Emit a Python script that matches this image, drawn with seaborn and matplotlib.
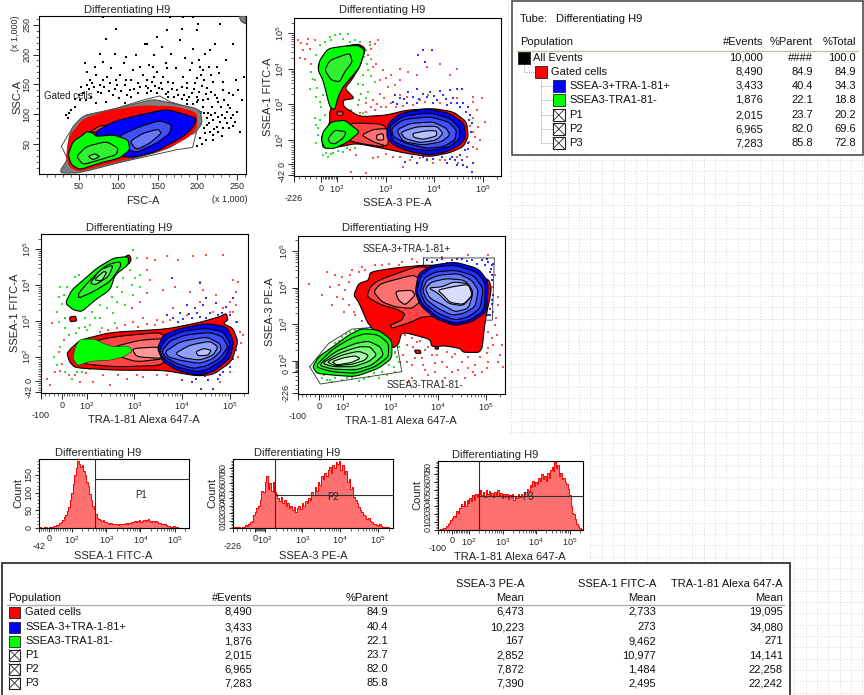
#!/usr/bin/env python3
# flow cytometry worksheet: four contour plots, three histograms, two stat tables
import numpy as np
import seaborn as sns
import matplotlib.pyplot as plt
from matplotlib.patches import Rectangle

sns.set_style('white')
plt.rcParams['font.family'] = ['Liberation Sans', 'DejaVu Sans']
plt.rcParams['mathtext.default'] = 'regular'
plt.rcParams['font.size'] = 8

#%% data: plots use display channels (x right, y down)
TITLE = 'Differentiating H9'
RED, BLUE, GREEN = '#ff0000', '#0000ff', '#00ff00'
REDS = ['#ff0000', '#ff4545', '#ff7070', '#ff9898']
BLUES = ['#0000ff', '#2030ff', '#4050ff', '#6878ff', '#90a0ff', '#b8c0ff', '#d8dcff']
GREENS = ['#00ff00', '#30f030', '#55ff55', '#80ff80', '#a8ffa8', '#d4ffd4']

# plot 1, FSC / SSC
p1_gate = [(185,440),(205,405),(235,365),(260,345),(350,325),(430,300),(480,288),(510,305),(605,335),(578,443),(530,450),(240,515),(205,480)]
p1_gray = [(183,510),(203,480),(205,430),(215,385),(250,348),(300,338),(400,313),(460,298),(510,308),(600,328),(607,370),(585,400),(570,405),(500,450),(240,520),(185,520)]
p1_gray_corner = [(718,47),(738,47),(738,72),(722,62)]
p1_red = [(200,470),(210,410),(250,358),(320,335),(420,318),(520,320),(590,338),(590,385),(560,415),(490,450),(350,485),(235,515),(210,500)]
p1_red2 = [(268,398),(300,378),(322,376),(300,395)]
p1_blue = [(280,400),(340,365),(420,345),(500,328),(550,342),(590,355),(580,382),(550,410),(470,455),(390,475),(340,460)]
p1_blue2 = [(355,410),(420,380),(480,362),(515,375),(510,400),(470,430),(410,458),(385,450)]
p1_blue3 = [(390,425),(430,400),(475,388),(485,400),(450,430),(410,450)]
p1_green = [(205,465),(220,425),(250,405),(260,395),(280,400),(290,410),(340,405),(385,420),(390,450),(360,475),(300,490),(240,510),(215,495)]
p1_green2 = [(230,470),(260,440),(320,425),(355,445),(350,465),(300,480),(250,495)]
p1_green3 = [(265,470),(285,462),(300,470),(280,480)]
p1_dots = [(255,190),(262,215),(270,240),(285,200),(290,225),(300,255),(310,185),(322,230),(335,205),(345,160),(350,85),(352,255),(360,225),(372,190),(380,240),(392,270),(400,210),(410,165),(415,250),(428,225),
    (435,130),(440,280),(448,195),(455,245),(462,165),(470,215),(478,265),(485,140),(490,232),(498,190),(505,275),(512,160),(520,250),(528,205),(535,285),(540,120),(548,230),(555,175),(562,265),(570,210),
    (578,145),(585,250),(590,290),(595,70),(597,180),(602,225),(610,300),(615,160),(622,265),(628,200),(635,320),(640,245),(645,130),(652,295),(658,220),(665,345),(670,270),(678,180),(685,315),(692,355),
    (700,285),(708,240),(712,335),(720,395),(726,300),(732,230),(650,380),(665,410),(640,360),(625,340),(612,385),(618,420),(590,440),(600,415),(640,420),(680,370),(215,330),(205,355),(225,320),(240,300),
    (250,280),(260,300),(275,290),(290,310),(305,280),(320,305),(340,285),(358,295),(375,310),(395,290),(415,280),(445,265),(470,280),(505,290),(530,270),(560,300),(575,280),(595,300),(610,320),(560,250),
    (300,160),(320,115),(440,130),(470,110),(500,90),(545,85),(590,90),(660,70),(510,50),(550,50),(580,50),(310,50),(630,150),(700,130),(500,205),(420,200),(380,170),(460,200),(650,200),(600,200),
    (268,268),(282,262),(296,275),(312,262),(328,272),(345,268),(365,272),(382,285),(402,268),(422,262),(438,258),(452,272),(465,258),(485,268),(498,282),(515,268),(522,292),(545,262),(552,285),(568,290),
    (582,268),(598,275),(605,258),(618,282),(625,298),(632,275),(645,285),(655,305),(662,320),(672,300),(680,335),(690,325),(698,345),(705,365),(675,355),(655,350),(645,338),(632,345),(620,355),(612,340),
    (628,370),(642,388),(655,395),(670,385),(688,385),(700,378),(660,365),(615,400),(605,432),(630,395),(640,405),(620,375),(590,305),(578,312),(560,312),(545,298),(505,245),(482,248),(462,232),(442,240),
    (395,240),(375,255),(348,240),(330,250),(310,240),(278,250),(262,255),(245,262),(238,285),(225,298),(208,340),(198,345),(592,235),(612,240),(632,225),(668,245),(688,280),(715,270),(610,210),(575,188)]

# plot 2, SSEA-3 / SSEA-1
p2_red = [(295,130),(318,145),(300,200),(275,240),(255,265),(285,295),(250,300),(252,320),(300,350),(380,345),(440,330),(520,325),(580,335),(620,365),(625,410),(610,440),(570,458),(510,470),(440,460),(370,445),(290,430),(240,440),(190,445),(185,410),(210,370),(210,330),(240,290),(170,205),(200,150)]
p2_red2 = [(265,368),(380,372),(380,442),(300,430),(262,420)]
p2_red3 = [(305,405),(340,388),(385,385),(385,440),(340,425)]
p2_red4 = [(350,405),(370,400),(372,420),(352,420)]
p2_red5 = [(230,335),(250,335),(250,345),(235,347)]
p2_blue = [[(385,370),(420,340),(500,325),(570,340),(612,370),(618,410),(600,435),(560,455),(510,465),(450,455),(400,435),(380,410)],
    [(388,380),(430,348),(510,338),(570,355),(600,385),(600,415),(570,440),(510,452),(450,445),(400,425)],
    [(395,385),(430,358),(510,350),(565,365),(590,390),(585,420),(550,440),(500,445),(440,430),(400,410)],
    [(410,390),(450,370),(520,365),(560,385),(570,405),(545,425),(490,435),(430,425)],
    [(422,397),(470,380),(530,378),(550,400),(530,420),(480,428),(435,415)],
    [(458,400),(500,392),(530,392),(530,408),(490,418),(462,412)]]
p2_green_top = [(175,210),(180,180),(205,145),(250,138),(295,135),(315,150),(300,200),(280,225),(250,260),(235,290),(225,330),(210,320),(190,240)]
p2_green_top2 = [(195,210),(210,180),(270,158),(278,185),(255,215),(240,245),(215,240)]
p2_green_low = [(185,420),(190,395),(215,365),(255,360),(280,380),(300,395),(265,425),(225,445),(195,445)]
p2_green_low2 = [(205,415),(225,390),(260,395),(250,415),(225,432),(210,428)]
p2_red_dots = [(115,120),(125,128),(145,115),(165,118),(150,145),(135,175),(155,190),(120,172),(330,125),(345,130),(355,120),(325,165),(350,190),(370,210),(395,225),(420,205),(445,215),(470,225),(500,200),(540,190),
    (590,205),(570,225),(420,240),(385,260),(360,280),(340,300),(320,310),(395,310),(365,320),(640,290),(665,295),(650,330),(640,355),(655,380),(675,365),(645,410),(660,420),(640,440),(620,470),(595,490),
    (540,480),(520,490),(480,475),(450,480),(430,500),(400,470),(320,520),(340,475),(290,465),(270,450),(640,305),(440,290),(505,285),(480,300),(420,285),(590,295),(275,515),(380,320),(300,340),
    (130,150),(142,132),(335,145),(340,200),(362,240),(378,232),(405,255),(372,295),(352,312),(335,322),(318,335),(345,330),(410,320),(430,318),(460,315),(495,305),(540,310),(630,378),(640,395),(628,425),(650,448),(590,470),(555,480),(500,478),(420,470),(380,462),(355,470)]
p2_green_dots = [(225,105),(240,100),(265,100),(215,120),(195,125),(180,135),(170,165),(155,215),(150,265),(165,240),(170,290),(185,320),(190,285),(300,125),(320,150),(335,175),(310,225),(295,250),(305,280),(325,210),
    (345,245),(290,205),(165,355),(175,385),(190,465),(205,470),(220,460),(250,455),(170,430),(175,405),(285,445),(310,340),(275,330),(295,315),(325,275),(270,125),(200,460),
    (210,110),(250,115),(285,118),(330,135),(312,170),(322,190),(335,228),(310,255),(320,295),(298,300),(160,235),(172,262),(180,305),(195,345),(180,360),(168,375),(215,462),(235,452),(262,445)]
p2_blue_dots = [(475,165),(490,150),(495,185),(515,150),(405,285),(420,295),(445,275),(470,265),(490,280),(510,275),(530,300),(550,285),(570,270),(590,265),(605,265),(580,295),(610,310),(560,315),(520,310),(470,310),
    (400,305),(440,310),(630,345),(635,370),(625,430),(615,450),(600,465),(585,480),(560,490),(620,500),(635,515),(610,495),(640,490),(500,480),(470,490),(435,485),(455,470),(575,470),(600,320),(625,320),
    (412,312),(432,298),(458,292),(478,298),(500,292),(522,288),(540,272),(558,298),(572,308),(592,308),(618,335),(628,360),(632,395),(625,448),(606,480),(590,495),(570,478),(545,472),(520,476),(490,470)]

# plot 3, TRA-1-81 / SSEA-1
p3_red = [(200,415),(212,400),(240,375),(330,352),(500,342),(600,322),(660,305),(680,295),(685,315),(670,325),(700,340),(715,380),(695,440),(640,478),(590,482),(490,465),(350,465),(225,458),(208,440)]
p3_red_dot = [(208,306),(226,303),(230,318),(210,320)]
p3_red_tip = [(375,125),(388,120),(394,135),(385,150)]
p3_reds = [[(230,390),(340,365),(500,350),(500,450),(350,455),(240,445)],
    [(340,395),(420,375),(500,370),(500,430),(410,440),(360,425)],
    [(395,400),(480,395),(490,430),(410,425)]]
p3_blue = [[(472,400),(490,360),(540,340),(620,325),(680,335),(703,380),(690,430),(640,470),(590,480),(530,465),(490,440)],
    [(478,405),(500,370),(550,348),(620,340),(670,350),(692,385),(675,430),(625,462),(590,470),(530,455),(490,430)],
    [(485,408),(510,378),(555,360),(630,352),(668,365),(685,395),(660,430),(620,452),(580,460),(530,445),(495,425)],
    [(495,410),(540,380),(620,365),(660,385),(665,405),(640,430),(600,445),(540,435),(505,425)],
    [(525,415),(570,390),(630,378),(655,395),(640,420),(600,435),(550,428)],
    [(588,410),(610,400),(635,405),(625,420),(595,422)]]
p3_green_top = [[(195,265),(215,225),(250,195),(290,160),(340,130),(385,125),(385,150),(345,180),(330,225),(285,255),(245,290),(220,285)],
    [(235,235),(270,195),(320,150),(360,140),(362,155),(330,200),(280,230),(235,250)],
    [(270,205),(300,165),(340,150),(325,185),(285,210)],
    [(282,195),(310,170),(320,172),(305,198)]]
p3_green_low = [(218,430),(225,395),(240,372),(285,372),(310,385),(340,395),(385,392),(398,408),(370,425),(330,435),(270,438),(232,452)]
p3_red_dots = [(440,130),(465,135),(500,125),(535,135),(580,125),(620,120),(670,120),(700,195),(715,200),(710,230),(690,260),(650,240),(610,225),(570,230),(525,215),(490,225),(450,195),(440,235),(420,260),(395,280),
    (430,310),(470,315),(520,280),(560,300),(700,290),(720,350),(730,360),(715,425),(690,470),(660,500),(500,480),(430,485),(380,490),(330,510),(280,500),(240,500),(205,480),(150,510),(165,470),(140,490),
    (155,325),(190,375),(175,410),(440,165),(375,330),(400,320),(600,200),(670,280),(640,290),(710,270),
    (415,335),(440,328),(465,330),(490,322),(510,315),(350,340),(325,345),(300,352),(470,480),(410,478),(355,478),(310,480),(258,472),(225,478),(185,445),(178,468),(725,385),(708,320),(690,290),(600,262)]
p3_green_dots = [(400,105),(410,130),(420,180),(395,210),(370,190),(350,215),(335,245),(300,270),(275,290),(255,310),(235,340),(195,340),(175,320),(170,290),(180,215),(225,185),(175,245),(190,240),(270,330),(300,310),
    (340,295),(375,270),(400,240),(420,215),(230,470),(195,470),(215,490),(170,450),(180,395),(205,360),(260,345),(305,340),(345,325),(160,425),
    (350,260),(320,278),(285,310),(255,335),(228,355),(195,310),(185,268),(200,215),(235,180),(365,230),(390,165),(405,190),(245,470),(270,462)]
p3_blue_dots = [(515,190),(600,205),(540,295),(560,270),(585,280),(610,270),(630,295),(655,300),(680,275),(700,250),(520,310),(500,300),(535,320),(575,310),(600,305),(650,265),(620,250),(590,490),(605,520),(640,520),
    (655,490),(670,470),(700,430),(690,455),(575,500),(545,495),(625,495),(550,312),(568,298),(592,295),(618,308),(640,312),(668,295),(692,300),(712,320),(708,405),(660,478),(615,482)]

# plot 4, TRA-1-81 / SSEA-3
p4_gate_blue = [(505,128),(718,128),(712,315),(505,315)]
p4_gate_green = [(163,455),(220,385),(290,342),(370,335),(425,385),(440,470),(195,507)]
p4_red = [(295,240),(310,205),(340,195),(345,170),(420,158),(500,150),(560,150),(700,190),(710,220),(690,320),(680,412),(625,412),(615,400),(570,392),(530,395),(525,372),(440,350),(430,388),(412,400),(340,330),(310,260)]
p4_red_bit1 = [(478,405),(495,405),(498,415),(482,415)]
p4_red_bit2 = [(540,395),(550,395),(550,402),(540,402)]
p4_reds = [[(335,245),(345,215),(370,195),(480,155),(520,155),(600,300),(500,305),(470,320),(410,340),(405,330),(440,315),(450,295),(420,280),(380,270)],
    [(355,230),(375,205),(490,175),(495,260),(470,280),(420,275),(380,260)],
    [(420,228),(470,225),(480,240),(450,270),(430,255)]]
p4_blue = [[(480,230),(490,175),(530,150),(600,140),(670,160),(700,200),(695,290),(650,320),(600,332),(540,310),(495,270)],
    [(485,230),(497,180),(535,155),(600,150),(665,170),(692,205),(688,285),(645,315),(600,325),(545,305),(500,265)],
    [(495,230),(505,190),(540,170),(600,165),(655,180),(685,220),(675,280),(640,305),(600,315),(550,295),(510,265)],
    [(502,225),(515,195),(550,180),(610,175),(650,195),(670,225),(660,275),(625,295),(590,300),(550,280),(515,255)],
    [(510,220),(530,200),(575,190),(630,195),(655,230),(640,280),(600,290),(565,270),(525,250)],
    [(520,218),(560,215),(595,200),(640,205),(655,235),(625,272),(580,265),(550,235)],
    [(548,225),(590,215),(640,207),(652,240),(625,268),(585,262),(565,240)]]
p4_green = [[(172,455),(190,425),(240,390),(280,360),(320,340),(370,345),(410,375),(410,430),(370,460),(300,485),(230,480),(185,475)],
    [(178,455),(235,400),(290,368),(330,355),(370,360),(400,385),(400,425),(360,455),(300,475),(230,470)],
    [(190,450),(240,410),(300,385),(340,378),(375,395),(385,420),(350,450),(300,465),(230,462)],
    [(200,445),(250,415),(310,395),(345,395),(365,420),(340,440),(295,455),(235,455)],
    [(215,440),(260,420),(310,408),(340,420),(330,435),(290,448),(240,452)],
    [(230,440),(265,428),(300,422),(315,430),(290,442),(245,450)]]
p4_red_dots = [(160,205),(215,170),(240,180),(260,185),(225,215),(200,240),(245,245),(270,225),(285,180),(230,270),(265,290),(295,290),(320,155),(400,145),(440,140),(470,130),(560,125),(640,120),(700,120),(720,180),
    (730,245),(715,290),(720,330),(700,350),(715,390),(735,420),(745,455),(700,440),(660,450),(620,440),(590,425),(560,440),(530,420),(500,430),(470,450),(445,420),(455,390),(485,380),(510,405),(590,470),
    (630,490),(660,480),(470,490),(510,465),(540,470),(570,490),(455,500),(680,470),(725,360),(740,390),(500,365),(470,370),(420,415),(435,440),
    (280,200),(290,165),(310,170),(330,165),(250,210),(262,250),(282,270),(300,300),(320,318),(338,322),(360,148),(380,150),(430,148),(485,140),(450,360),(475,395),(495,378),(520,395),(545,420),(575,412),
    (600,418),(640,425),(675,425),(695,415),(710,370),(722,310),(728,270),(715,215),(455,440),(480,430),(505,450),(540,445),(575,455),(610,465),(640,460),(700,400),(695,460),(730,440),(655,470),(520,480)]
p4_green_dots = [(200,490),(215,495),(240,490),(260,495),(290,490),(310,497),(340,485),(370,490),(395,480),(420,470),(430,440),(420,410),(430,395),(240,385),(260,365),(285,350),(195,470),(225,495),(355,475),(400,450),
    (205,480),(230,500),(275,488),(325,492),(380,470),(415,455),(425,425),(415,395),(250,378),(272,358),(300,345)]
p4_blue_dots = [(515,135),(530,140),(560,132),(590,135),(620,132),(650,135),(680,135),(700,140),(712,150),(705,170),(710,195),(715,240),(705,280),(700,300),(710,265),(690,150),(665,145),(705,215),
    (545,135),(575,142),(605,132),(635,138),(695,132),(708,160),(712,180),(705,232),(712,255),(706,300),(715,145)]

# histograms: counts per display bin
h1_counts = [0,2,1,0,3,2,1,3,4,4,6,5,8,9,14,17,22,30,38,48,60,78,98,125,150,170,190,182,172,178,160,150,130,118,95,80,62,55,
    40,28,26,24,20,22,18,17,14,12,14,11,12,10,12,9,11,10,12,11,13,12,15,14,18,16,19,17,20,22,18,21,24,19,22,25,20,18,21,17,19,16,14,
    15,12,10,11,8,7,6,4,3,5,1,2,0,1,0,0,0,0,0,0]
h2_counts = [0,1,2,1,2,0,1,2,4,3,6,8,10,18,22,27,30,38,50,48,62,70,52,60,50,62,48,46,40,36,42,34,38,30,34,27,30,24,28,22,27,
    30,26,33,30,36,34,40,38,48,44,55,50,62,58,70,66,74,70,78,82,74,84,80,88,86,90,78,84,72,76,62,66,52,55,42,38,34,28,24,22,
    18,16,12,14,9,8,6,5,4,3,5,3,2,2,1,1,0,0,0]
h3_counts = [0,0,1,1,2,3,5,7,9,12,15,18,17,24,22,28,33,30,36,30,38,34,40,36,44,38,46,42,46,50,44,48,42,51,45,49,43,47,41,48,44,50,43,47,40,46,42,45,39,44,41,46,38,43,40,45,
    41,46,43,48,45,52,49,57,54,62,56,60,58,66,62,70,64,68,62,72,66,76,80,74,86,78,82,68,72,64,66,60,58,52,44,30,22,20,14,8,5,3,1,0]

# table 1
t1_names = ['All Events', 'Gated cells', 'SSEA-3+TRA-1-81+', 'SSEA3-TRA1-81-', 'P1', 'P2', 'P3']
t1_events = ['10,000', '8,490', '3,433', '1,876', '2,015', '6,965', '7,283']
t1_parent = ['####', '84.9', '40.4', '22.1', '23.7', '82.0', '85.8']
t1_total = ['100.0', '84.9', '34.3', '18.8', '20.2', '69.6', '72.8']
t1_colors = ['#000000', RED, BLUE, GREEN, None, None, None]

# table 2
t2_names = ['Gated cells', 'SSEA-3+TRA-1-81+', 'SSEA3-TRA1-81-', 'P1', 'P2', 'P3']
t2_events = ['8,490', '3,433', '1,876', '2,015', '6,965', '7,283']
t2_parent = ['84.9', '40.4', '22.1', '23.7', '82.0', '85.8']
t2_ssea3 = ['6,473', '10,223', '167', '2,852', '7,872', '7,390']
t2_ssea1 = ['2,733', '273', '9,462', '10,977', '1,484', '2,495']
t2_tra = ['19,095', '34,080', '271', '14,141', '22,258', '22,242']
t2_colors = [RED, BLUE, GREEN, None, None, None]

#%% helpers
W, H = 864, 695
TICK = 6.5
fig = plt.figure(figsize=(W / 100, H / 100), dpi=100, facecolor='white')
bg = fig.add_axes([0, 0, 1, 1], zorder=0)
bg.set_xlim(0, W)
bg.set_ylim(H, 0)
bg.axis('off')


def px_axes(l, t, r, b):
    ax = fig.add_axes([l / W, 1 - b / H, (r - l) / W, (b - t) / H], zorder=2)
    ax.patch.set_alpha(1)
    for s in ax.spines.values():
        s.set_visible(True)
        s.set_color('black')
        s.set_linewidth(0.8)
    return ax


def smooth(pts, n=2):
    # light corner cutting so hand read contours are not jagged
    p = np.array(pts, dtype=float)
    for _ in range(n):
        q = np.roll(p, -1, axis=0)
        p = np.column_stack([0.85 * p + 0.15 * q, 0.15 * p + 0.85 * q]).reshape(-1, 2)
    return p


def contour(ax, pts, color, z=3, lw=0.8, edge='black'):
    p = smooth(pts)
    ax.fill(p[:, 0], p[:, 1], facecolor=color, edgecolor=edge, linewidth=lw, zorder=z)


def gate(ax, pts):
    p = np.array(pts + pts[:1])
    ax.plot(p[:, 0], p[:, 1], color='#303030', lw=0.6, zorder=2)


def dots(ax, pts, color):
    p = np.array(pts)
    sns.scatterplot(x=p[:, 0], y=p[:, 1], ax=ax, color=color, marker='s', s=0.9, linewidth=0, legend=False, zorder=1)


def sup(k):
    return r'$\mathdefault{10^{%d}}$' % k


def biex(ten2, per, zero, low, lo, hi):
    # tick positions for a biexponential axis: 10^2 at ten2, "per" channels a decade
    majors = [low, zero] + [ten2 + per * k for k in range(4)]
    minors = list(np.linspace(low, zero, 6)) + list(np.linspace(zero, ten2, 11))
    for k in range(4):
        for m in range(2, 10):
            minors.append(ten2 + per * (k + np.log10(m)))
    minors = [v for v in minors if min(lo, hi) <= v <= max(lo, hi)]
    return majors, minors


def style_x(ax, majors, minors, labels, low_pad=None, major_len=4, minor_len=2):
    ax.set_xticks(majors, labels)
    ax.set_xticks(minors, minor=True)
    ax.tick_params(axis='x', which='major', length=major_len, width=0.7, pad=1.5, bottom=True, direction='out', labelsize=TICK)
    ax.tick_params(axis='x', which='minor', length=minor_len, width=0.5, bottom=True, direction='out')
    if low_pad:
        ax.xaxis.get_major_ticks()[0].set_pad(low_pad)


def style_y(ax, majors, minors, labels):
    ax.set_yticks(majors, labels)
    ax.set_yticks(minors, minor=True)
    ax.tick_params(axis='y', which='major', length=4, width=0.7, pad=1.5, left=True, direction='out', labelsize=TICK)
    ax.tick_params(axis='y', which='minor', length=2, width=0.5, left=True, direction='out')
    for lab in ax.get_yticklabels():
        lab.set_rotation(90)
        lab.set_va('center')


def labels(title_xy, x_label, xlabel_xy, ylabel, ylabel_xy):
    bg.text(*title_xy, TITLE, ha='center', va='center', fontsize=8, zorder=9)
    bg.text(*xlabel_xy, x_label, ha='center', va='center', fontsize=8, zorder=9)
    bg.text(*ylabel_xy, ylabel, ha='center', va='center', rotation=90, fontsize=8, zorder=9)


#%% page background: dotted layout grid
gx = np.arange(511, W, 11.33)
gy = np.arange(160, H, 11.33)
bg.vlines(gx, 158, H, color='#d4d4d4', lw=0.7, ls=(0, (1, 2)), zorder=0)
bg.hlines(gy, 508, W, color='#d4d4d4', lw=0.7, ls=(0, (1, 2)), zorder=0)
bg.vlines([508], 0, 158, color='#d4d4d4', lw=0.7, ls=(0, (1, 2)), zorder=0)
bg.add_patch(Rectangle((506, 436), 84, 130, fc='white', ec='none', zorder=1))

#%% plot 1
ax = px_axes(39, 16, 246, 174)
dots(ax, p1_dots, 'black')
gate(ax, p1_gate)
contour(ax, p1_gray, '#808080', edge='#505050')
contour(ax, p1_gray_corner, '#808080', edge='#505050')
contour(ax, p1_red, RED, z=4, edge=RED)
contour(ax, p1_red2, REDS[1], z=4)
for pts, c in zip([p1_blue, p1_blue2, p1_blue3], [BLUES[0], BLUES[2], BLUES[3]]):
    contour(ax, pts, c, z=5)
for pts, c in zip([p1_green, p1_green2, p1_green3], [GREENS[0], GREENS[1], GREENS[2]]):
    contour(ax, pts, c, z=6)
ax.set_xlim(118, 738)
ax.set_ylim(523, 47)
# FSC/SSC are linear: 2.37 and 1.8 channels per 1,000 units
style_x(ax, [118 + 2.37 * v for v in (50, 100, 150, 200, 250)], [118 + 2.37 * v for v in range(10, 262, 10)], ['50', '100', '150', '200', '250'])
style_y(ax, [523 - 1.8 * v for v in (50, 100, 150, 200, 250)], [523 - 1.8 * v for v in range(10, 262, 10)], ['50', '100', '150', '200', '250'])
ax.text(132, 288, 'Gated cells', fontsize=7, va='center', color='#202020', zorder=8)
labels((127, 10), 'FSC-A', (143, 201), 'SSC-A', (17, 97))
bg.text(230, 199, '(x 1,000)', ha='center', va='center', fontsize=TICK)
bg.text(15, 33, '(x 1,000)', ha='center', va='center', fontsize=TICK, rotation=90)

#%% plot 2
ax = px_axes(294, 18, 501, 176)
dots(ax, p2_red_dots, '#ff5050')
dots(ax, p2_green_dots, '#30e030')
dots(ax, p2_blue_dots, '#3030ff')
contour(ax, p2_red, RED, z=3)
contour(ax, p2_red2, REDS[1], z=3)
contour(ax, p2_red3, REDS[2], z=3)
contour(ax, p2_red4, REDS[3], z=3)
contour(ax, p2_red5, REDS[1], z=4)
for pts, c in zip(p2_blue, BLUES):
    contour(ax, pts, c, z=5)
contour(ax, p2_green_top, GREENS[0], z=6)
contour(ax, p2_green_top2, GREENS[1], z=6)
contour(ax, p2_green_low, GREENS[0], z=6)
contour(ax, p2_green_low2, GREENS[1], z=6)
ax.set_xlim(103, 723)
ax.set_ylim(528, 53)
mj, mn = biex(232, 145.3, 185, 103, 103, 723)
style_x(ax, mj, mn, ['-226', '0', sup(2), sup(3), sup(4), sup(5)], low_pad=9)
mj, mn = biex(420, -107, 492, 525, 528, 53)
style_y(ax, mj, mn, ['-42', '0', sup(2), sup(3), sup(4), sup(5)])
labels((382, 10), 'SSEA-3 PE-A', (397, 203), 'SSEA-1 FITC-A', (268, 97))

#%% plot 3
ax = px_axes(41, 234, 248, 393)
dots(ax, p3_red_dots, '#ff5050')
dots(ax, p3_green_dots, '#30e030')
dots(ax, p3_blue_dots, '#3030ff')
contour(ax, p3_red, RED)
contour(ax, p3_red_dot, RED)
contour(ax, p3_red_tip, RED)
for pts, c in zip(p3_reds, REDS[1:]):
    contour(ax, pts, c)
for pts, c in zip(p3_blue, BLUES):
    contour(ax, pts, c, z=5)
for pts, c in zip(p3_green_top, GREENS):
    contour(ax, pts, c, z=6)
contour(ax, p3_green_low, GREENS[0], z=6, lw=0.3)
ax.set_xlim(122, 745)
ax.set_ylim(533, 58)
mj, mn = biex(260, 143.3, 185, 122, 122, 745)
style_x(ax, mj, mn, ['-100', '0', sup(2), sup(3), sup(4), sup(5)], low_pad=9)
mj, mn = biex(425, -107, 497, 530, 533, 58)
style_y(ax, mj, mn, ['-42', '0', sup(2), sup(3), sup(4), sup(5)])
labels((129, 228), 'TRA-1-81 Alexa 647-A', (144, 420), 'SSEA-1 FITC-A', (15, 313))

#%% plot 4
ax = px_axes(298, 236, 505, 394)
dots(ax, p4_red_dots, '#ff5050')
dots(ax, p4_green_dots, '#30e030')
dots(ax, p4_blue_dots, '#3030ff')
gate(ax, p4_gate_blue)
gate(ax, p4_gate_green)
contour(ax, p4_red, RED)
contour(ax, p4_red_bit1, RED)
contour(ax, p4_red_bit2, RED)
for pts, c in zip(p4_reds, REDS[1:]):
    contour(ax, pts, c)
for pts, c in zip(p4_blue, BLUES):
    contour(ax, pts, c, z=5)
for pts, c in zip(p4_green, GREENS):
    contour(ax, pts, c, z=6)
ax.set_xlim(128, 750)
ax.set_ylim(537, 62)
mj, mn = biex(262, 143.5, 190, 128, 128, 750)
style_x(ax, mj, mn, ['-100', '0', sup(2), sup(3), sup(4), sup(5)], low_pad=9)
mj, mn = biex(437, -110, 470, 535, 537, 62)
style_y(ax, mj, mn, ['-226', '0', sup(2), sup(3), sup(4), sup(5)])
ax.text(454, 100, 'SSEA-3+TRA-1-81+', ha='center', va='center', fontsize=7, zorder=8)
ax.text(510, 510, 'SSEA3-TRA1-81-', ha='center', va='center', fontsize=7, zorder=8)
labels((385, 228), 'TRA-1-81 Alexa 647-A', (401, 421), 'SSEA-3 PE-A', (270, 312))


#%% histograms
def hist(box, counts, xlim, ymax, yticks, ylabs, vline, hline, name, name_xy, tick_args, low_label, tlab):
    ax = px_axes(*box)
    pos = np.linspace(xlim[0], xlim[1], len(counts))
    vals = np.array(counts, dtype=float)
    ax.fill_between(pos, 0, vals, step='mid', color='#ff7070', lw=0, zorder=1)
    sns.lineplot(x=pos, y=vals, ax=ax, color=RED, lw=0.7, drawstyle='steps-mid', errorbar=None, legend=False, zorder=2)
    ax.vlines([vline], 0, ymax, color='#303030', lw=0.8, zorder=3)
    ax.hlines([hline], vline, xlim[1], color='#303030', lw=0.8, zorder=3)
    ax.text(name_xy[0], name_xy[1], name, ha='center', va='center', fontsize=7, zorder=4)
    ax.set_xlim(*xlim)
    ax.set_ylim(0, ymax)
    mj, mn = biex(*tick_args)
    style_x(ax, mj, mn, [low_label, '0', sup(2), sup(3), sup(4), sup(5)], low_pad=7, major_len=3, minor_len=1.8)
    ax.set_yticks(yticks, ylabs)
    ax.set_yticks(np.arange(0, ymax, yticks[1] / 5), minor=True)
    ax.tick_params(axis='y', which='major', length=3, width=0.7, pad=1, left=True, labelsize=TICK)
    ax.tick_params(axis='y', which='minor', length=1.5, width=0.5, left=True)
    for lab in ax.get_yticklabels():
        lab.set_rotation(90)
        lab.set_va('center')
    bg.text(*tlab[0], TITLE, ha='center', va='center', fontsize=8, zorder=9)
    bg.text(*tlab[1], tlab[3], ha='center', va='center', fontsize=8, zorder=9)
    bg.text(*tlab[2], 'Count', ha='center', va='center', rotation=90, fontsize=8, zorder=9)
    return ax


hist((39, 459, 189, 528), h1_counts, (118, 568), 195, [0, 50, 100, 150], ['0', '50', '100', '150'], 287, 138, 'P1', (423, 92),
     (217, 102.7, 148, 118, 118, 568), '-42', ((98, 453), (113, 556), (18, 493), 'SSEA-1 FITC-A'))
hist((233, 459, 393, 528), h2_counts, (700, 1180), 92, list(range(0, 90, 10)), [str(v) for v in range(0, 90, 10)], 826, 44, 'P2', (1000, 42),
     (795, 113, 765, 700, 700, 1180), '-226', ((297, 453), (313, 556), (212, 493), 'SSEA-3 PE-A'))
hist((438, 461, 583, 530), h3_counts, (115, 550), 87, list(range(0, 90, 10)), [str(v) for v in range(0, 90, 10)], 237, 43, 'P3', (385, 42),
     (208, 100.7, 158, 115, 115, 550), '-100', ((495, 455), (510, 557), (417, 495), 'TRA-1-81 Alexa 647-A'))


#%% tables
def swatch(x, y, color, size=11.5):
    if color is None:
        bg.add_patch(Rectangle((x, y - size / 2), size, size, fc='white', ec='#202020', lw=0.8, zorder=4))
        bg.plot([x, x + size], [y - size / 2, y + size / 2], color='#202020', lw=0.6, zorder=5)
        bg.plot([x, x + size], [y + size / 2, y - size / 2], color='#202020', lw=0.6, zorder=5)
    else:
        bg.add_patch(Rectangle((x, y - size / 2), size, size, fc=color, ec='#202020', lw=0.6, zorder=4))


def cell(x, y, s, ha='left'):
    bg.text(x, y, s, ha=ha, va='center', fontsize=8, color='#101010', zorder=6)


# table 1
bg.add_patch(Rectangle((512, 0.5), 351, 154.5, fc='white', ec='#404040', lw=1.1, zorder=2))
cell(520, 19, 'Tube:')
cell(556, 19, TITLE)
cell(520, 42, 'Population')
cell(763, 42, '#Events', 'right')
cell(813, 42, '%Parent', 'right')
cell(856, 42, '%Total', 'right')
bg.plot([517, 858], [50.5, 50.5], color='#c8bea0', lw=1, zorder=3)
t1_y = [58, 72, 86, 100, 115, 129, 143]
t1_sw = [518, 535, 553, 553, 553, 553, 553]
t1_tx = [533, 551, 569, 569, 569, 569, 569]
dash = (0, (1, 1.5))
bg.plot([524, 524, 535], [64, 72, 72], color='#808080', lw=0.6, ls=dash, zorder=3)
bg.plot([541, 541], [78, 143], color='#808080', lw=0.6, ls=dash, zorder=3)
bg.hlines(t1_y[2:], 541, 553, color='#808080', lw=0.6, ls=dash, zorder=3)
for i, name in enumerate(t1_names):
    swatch(t1_sw[i], t1_y[i], t1_colors[i])
    cell(t1_tx[i], t1_y[i], name)
    cell(763, t1_y[i], t1_events[i], 'right')
    cell(813, t1_y[i], t1_parent[i], 'right')
    cell(856, t1_y[i], t1_total[i], 'right')

# table 2
bg.add_patch(Rectangle((2, 563), 788, 140, fc='white', ec='#101010', lw=1.1, zorder=2))
cell(8, 598, 'Population')
cell(252, 598, '#Events', 'right')
cell(388, 598, '%Parent', 'right')
t2_cols = [524, 656, 783]
t2_heads = ['SSEA-3 PE-A', 'SSEA-1 FITC-A', 'TRA-1-81 Alexa 647-A']
for cx, head in zip(t2_cols, t2_heads):
    cell(cx, 584, head, 'right')
    cell(cx, 598, 'Mean', 'right')
bg.plot([7, 784], [604.5, 604.5], color='#b0b0b0', lw=1, zorder=3)
t2_y = [612, 627, 641, 655, 669, 683]
for i, name in enumerate(t2_names):
    swatch(9, t2_y[i], t2_colors[i], size=11)
    cell(25, t2_y[i], name)
    cell(252, t2_y[i], t2_events[i], 'right')
    cell(388, t2_y[i], t2_parent[i], 'right')
    cell(524, t2_y[i], t2_ssea3[i], 'right')
    cell(656, t2_y[i], t2_ssea1[i], 'right')
    cell(783, t2_y[i], t2_tra[i], 'right')

fig.savefig('out.png', dpi=100, facecolor='white')
